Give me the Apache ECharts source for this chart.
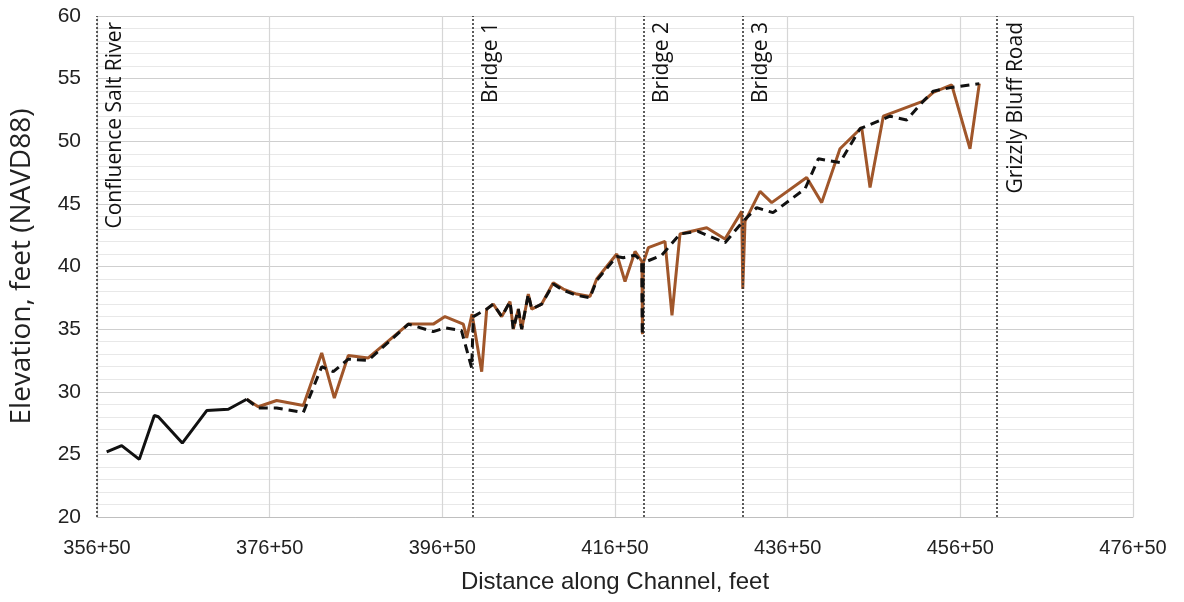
<!DOCTYPE html>
<html>
<head>
<meta charset="utf-8">
<title>Channel Profile</title>
<script src="https://cdn.jsdelivr.net/npm/echarts@6/dist/echarts.min.js"></script>
<style>
  html, body { margin: 0; padding: 0; background: #ffffff; }
  #chart { width: 1184px; height: 602px; }
</style>
</head>
<body>
<div id="chart"></div>
<script>
// Station ticks along the channel (feet) and their station-style labels
const stationTicks = [35650, 37650, 39650, 41650, 43650, 45650, 47650];
const stationTickLabels = ['356+50', '376+50', '396+50', '416+50', '436+50', '456+50', '476+50'];

// Landmarks drawn as dotted vertical lines
const landmarkNames = ['Confluence Salt River', 'Bridge 1', 'Bridge 2', 'Bridge 3', 'Grizzly Bluff Road'];
const landmarkStations = [35650, 40005, 41985, 43130, 46075];

// Downstream reach (solid black)
const lowerReachStations = [35762, 35936, 36140, 36314, 36360, 36638, 36921, 37171, 37384];
const lowerReachElev = [25.2, 25.7, 24.6, 28.1, 28.0, 25.9, 28.5, 28.6, 29.4];

// Surveyed channel bottom (brown)
const surveyStations = [37384, 37518, 37731, 38040, 38253, 38399, 38561, 38792, 39256, 39545,
  39681, 39893, 39932, 39994, 40106, 40164, 40240, 40338, 40434, 40472,
  40530, 40569, 40646, 40685, 40801, 40935, 41051, 41206, 41360, 41438,
  41670, 41766, 41882, 41962, 41968, 41978, 42036, 42229, 42310, 42403,
  42712, 42924, 43118, 43130, 43156, 43330, 43465, 43870, 44044, 44256,
  44507, 44604, 44758, 45221, 45337, 45550, 45762, 45870];
const surveyElev = [29.4, 28.8, 29.3, 28.9, 33.1, 29.5, 32.9, 32.7, 35.4, 35.4,
  36.0, 35.4, 34.3, 36.2, 31.6, 36.6, 37.0, 36.0, 37.2, 35.0,
  36.6, 35.0, 37.8, 36.6, 37.0, 38.7, 38.2, 37.8, 37.6, 39.0,
  41.0, 38.8, 41.2, 40.4, 34.6, 40.3, 41.5, 42.0, 36.1, 42.6,
  43.1, 42.2, 44.4, 38.2, 43.6, 46.0, 45.1, 47.1, 45.1, 49.4,
  51.1, 46.3, 52.0, 53.2, 53.9, 54.5, 49.4, 54.6];

// Design grade line (black dashed)
const designStations = [37384, 37518, 37731, 38040, 38253, 38387, 38561, 38792, 39256, 39545,
  39681, 39871, 39990, 40009, 40164, 40240, 40338, 40434, 40472, 40530,
  40569, 40646, 40685, 40801, 40935, 41051, 41206, 41360, 41438, 41670,
  41746, 41882, 41960, 41966, 41978, 42191, 42403, 42611, 42924, 43133,
  43291, 43480, 43851, 44005, 44256, 44488, 44835, 45029, 45221, 45337,
  45550, 45870];
const designElev = [29.4, 28.7, 28.7, 28.35, 32.0, 31.6, 32.6, 32.5, 35.4, 34.8,
  35.1, 34.9, 31.9, 36.0, 36.6, 37.0, 36.0, 37.2, 35.0, 36.6,
  35.0, 37.8, 36.6, 37.0, 38.6, 38.1, 37.7, 37.5, 38.9, 40.8,
  40.7, 40.9, 40.4, 34.5, 40.3, 40.9, 42.6, 42.8, 41.9, 43.6,
  44.7, 44.3, 46.2, 48.6, 48.3, 51.0, 52.0, 51.7, 53.2, 54.0,
  54.3, 54.6];

const pairs = (xs, ys) => xs.map((x, i) => [x, ys[i]]);

const labelFont = "'Liberation Sans', 'Open Sans', sans-serif";
const textFont = "'Open Sans', 'Liberation Sans', sans-serif";

const chart = echarts.init(document.getElementById('chart'), null, { renderer: 'canvas' });

chart.setOption({
  animation: false,
  backgroundColor: '#ffffff',
  grid: { left: 97, right: 51, top: 16, bottom: 85, containLabel: false },
  xAxis: {
    type: 'value',
    min: stationTicks[0],
    max: stationTicks[stationTicks.length - 1],
    name: 'Distance along Channel, feet',
    nameLocation: 'middle',
    nameGap: 53,
    nameTextStyle: { fontFamily: labelFont, fontSize: 24, color: '#222' },
    axisLine: { show: true, lineStyle: { color: '#bfbfbf', width: 1 } },
    axisTick: { show: false, customValues: stationTicks },
    axisLabel: {
      customValues: stationTicks,
      fontFamily: labelFont, fontSize: 20, color: '#222', margin: 21,
      formatter: v => stationTickLabels[stationTicks.indexOf(v)] || ''
    },
    splitLine: { show: true, lineStyle: { color: '#d6d6d6', width: 1.2 } }
  },
  yAxis: {
    type: 'value',
    min: 20, max: 60, interval: 5,
    name: 'Elevation, feet (NAVD88)',
    nameLocation: 'middle',
    nameGap: 61,
    nameTextStyle: { fontFamily: textFont, fontSize: 28, color: '#222' },
    axisLine: { show: false },
    axisTick: { show: false },
    axisLabel: { fontFamily: labelFont, fontSize: 21, color: '#222', margin: 16 },
    splitLine: { show: true, lineStyle: { color: '#cfcfcf', width: 1.2 } },
    minorTick: { show: false, splitNumber: 5 },
    minorSplitLine: { show: true, lineStyle: { color: '#e8e8e8', width: 1 } }
  },
  series: [
    {
      name: 'Landmarks',
      type: 'line',
      data: [],
      silent: true,
      markLine: {
        silent: true,
        symbol: ['none', 'none'],
        animation: false,
        lineStyle: { color: '#333', width: 1.6, type: [2, 2] },
        label: {
          show: true,
          position: 'insideEndBottom',
          distance: [6, 8],
          fontFamily: textFont,
          fontSize: 21,
          color: '#111',
          formatter: p => p.name
        },
        emphasis: { disabled: true },
        data: landmarkStations.map((x, i) => ({ name: landmarkNames[i], xAxis: x }))
      }
    },
    {
      name: 'Downstream reach',
      type: 'line',
      data: pairs(lowerReachStations, lowerReachElev),
      showSymbol: false,
      lineStyle: { color: '#111', width: 3 },
      z: 4
    },
    {
      name: 'Surveyed bottom',
      type: 'line',
      data: pairs(surveyStations, surveyElev),
      showSymbol: false,
      lineStyle: { color: '#a0562a', width: 3 },
      z: 3
    },
    {
      name: 'Design grade',
      type: 'line',
      data: pairs(designStations, designElev),
      showSymbol: false,
      lineStyle: { color: '#111', width: 3, type: [9, 6] },
      z: 5
    }
  ]
});
</script>
</body>
</html>
